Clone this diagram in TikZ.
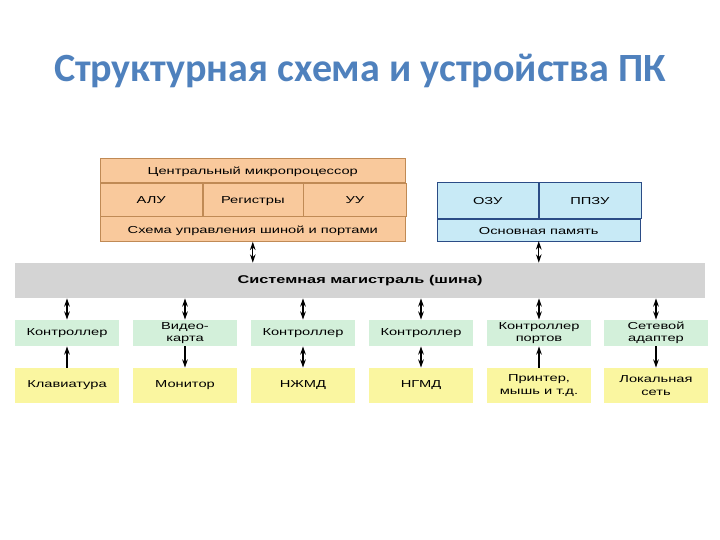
\documentclass[tikz,border=0pt]{standalone}
\usepackage{fontspec}
\setmainfont[FakeStretch=1.45]{Liberation Sans}
\newfontfamily\titlefont{Carlito}
\usetikzlibrary{
  arrows.meta,
  calc,
  positioning}
\definecolor{titleblue}{HTML}{4F81BD}
\definecolor{cpufill}{HTML}{F9C99C}
\definecolor{cpudraw}{HTML}{C08A55}
\definecolor{memfill}{HTML}{C8EAF6}
\definecolor{memdraw}{HTML}{2B4C86}
\definecolor{busfill}{HTML}{D4D4D4}
\definecolor{ctrlfill}{HTML}{D3F0DA}
\definecolor{devfill}{HTML}{FAF6A0}

\begin{document}
\begin{tikzpicture}[
      >={Stealth[length=6pt,width=4pt]},
      cell/.style={
        rectangle,
        inner sep=0pt,
        align=center,
        font=\fontsize{7.2}{8.8}\selectfont,
      },
      cpu/.style={
        cell,
        fill=cpufill,
        draw=cpudraw,
        text height=1.6ex,
        text depth=0.4ex,
      },
      memory/.style={
        cell,
        fill=memfill,
        draw=memdraw,
        text height=1.6ex,
        text depth=0.4ex,
      },
      controller/.style={
        cell,
        fill=ctrlfill,
        minimum width=2.6cm,
        minimum height=0.65cm,
      },
      device/.style={
        cell,
        fill=devfill,
        minimum width=2.6cm,
        minimum height=0.875cm,
      },
      link/.style={
        thick,
        black,
      },
    ]
    \useasboundingbox (0,0) rectangle (18,13.5);
    % title
    \node[titleblue, font=\titlefont\bfseries\fontsize{28.5}{32}\selectfont] (title-node) at (9,11.72) {Структурная схема и устройства ПК};
    % processor
    \coordinate (cpu) at (2.5,9.55);
    \node[cpu, anchor=north west, minimum width=7.625cm, minimum height=0.6cm] (cpu-node) at (cpu) {Центральный микропроцессор};
    \node[cpu, anchor=north west, minimum width=2.55cm, minimum height=0.825cm] (alu-node) at (cpu-node.south west) {АЛУ};
    \node[cpu, anchor=north west, minimum width=2.5cm, minimum height=0.825cm] (reg-node) at (alu-node.north east) {Регистры};
    \node[cpu, anchor=north west, minimum width=2.575cm, minimum height=0.825cm] (uu-node) at (reg-node.north east) {УУ};
    \node[cpu, anchor=north west, minimum width=7.625cm, minimum height=0.625cm] (port-node) at (alu-node.south west) {Схема управления шиной и портами};
    % memory
    \coordinate (mem) at (10.925,8.95);
    \node[memory, anchor=north west, minimum width=2.525cm, minimum height=0.9cm] (ozu-node) at (mem) {ОЗУ};
    \node[memory, anchor=north west, minimum width=2.55cm, minimum height=0.9cm] (ppzu-node) at (ozu-node.north east) {ППЗУ};
    \node[memory, anchor=north west, minimum width=5.075cm, minimum height=0.55cm] (ram-node) at (ozu-node.south west) {Основная память};
    % bus
    \node[cell, fill=busfill, minimum width=17.25cm, minimum height=0.875cm, font=\bfseries\fontsize{8}{10}\selectfont] (bus-node) at (9,6.4875) {Системная магистраль (шина)};
    \draw[<->, link] (port-node.south) -- (port-node.south |- bus-node.north);
    \draw[<->, link] (ram-node.south) -- (ram-node.south |- bus-node.north);
    % controllers
    \node[controller] (kbd-ctrl) at (1.675,5.175) {Контроллер};
    \node[controller] (video-ctrl) at (4.625,5.175) {Видео-\\карта};
    \node[controller] (hdd-ctrl) at (7.575,5.175) {Контроллер};
    \node[controller] (fdd-ctrl) at (10.525,5.175) {Контроллер};
    \node[controller] (port-ctrl) at (13.475,5.175) {Контроллер\\портов};
    \node[controller] (net-ctrl) at (16.4,5.175) {Сетевой\\адаптер};
    % devices
    \node[device] (kbd-dev) at (1.675,3.8625) {Клавиатура};
    \node[device] (video-dev) at (4.625,3.8625) {Монитор};
    \node[device] (hdd-dev) at (7.575,3.8625) {НЖМД};
    \node[device] (fdd-dev) at (10.525,3.8625) {НГМД};
    \node[device] (port-dev) at (13.475,3.8625) {Принтер,\\мышь и т.д.};
    \node[device] (net-dev) at (16.4,3.8625) {Локальная\\сеть};
    % bus to controllers
    \draw[<->, link] (kbd-ctrl.north) -- (kbd-ctrl.north |- bus-node.south);
    \draw[<->, link] (video-ctrl.north) -- (video-ctrl.north |- bus-node.south);
    \draw[<->, link] (hdd-ctrl.north) -- (hdd-ctrl.north |- bus-node.south);
    \draw[<->, link] (fdd-ctrl.north) -- (fdd-ctrl.north |- bus-node.south);
    \draw[<->, link] (port-ctrl.north) -- (port-ctrl.north |- bus-node.south);
    \draw[<->, link] (net-ctrl.north) -- (net-ctrl.north |- bus-node.south);
    % controllers to devices
    \draw[->, link] (kbd-dev) -- (kbd-ctrl);
    \draw[->, link] (video-ctrl) -- (video-dev);
    \draw[<->, link] (hdd-ctrl) -- (hdd-dev);
    \draw[<->, link] (fdd-ctrl) -- (fdd-dev);
    \draw[->, link] (port-dev) -- (port-ctrl);
    \draw[->, link] (net-ctrl) -- (net-dev);
  \end{tikzpicture}
\end{document}
